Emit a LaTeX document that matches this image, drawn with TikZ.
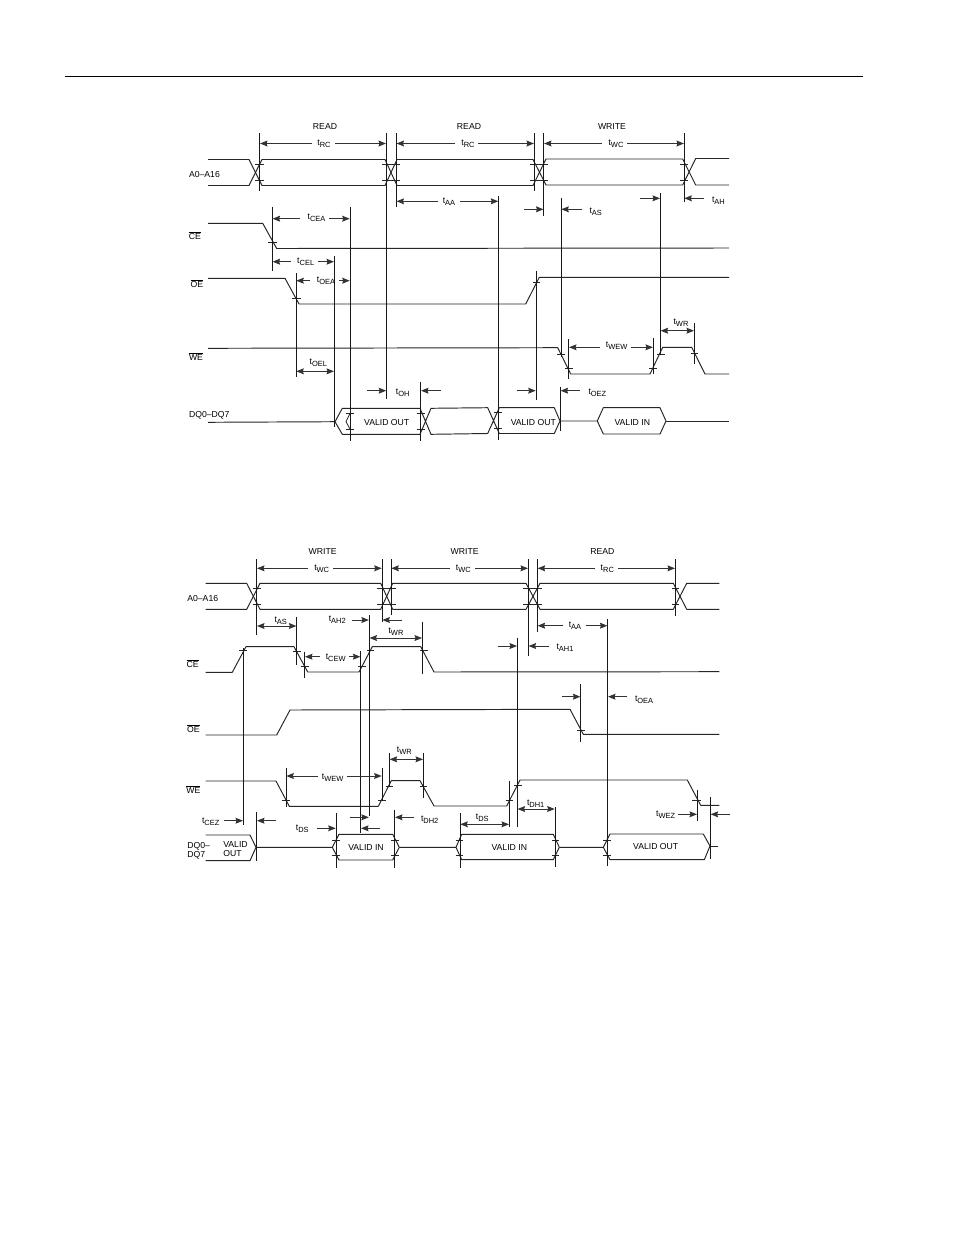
\documentclass[tikz,border=0pt]{standalone}
\usepackage{fontspec}
\setmainfont{Liberation Sans}
\usetikzlibrary{arrows.meta}
\tikzset{
  ln/.style={draw=black!85,line width=0.72pt,line join=round},
  vert/.style={draw=black!90,line width=0.73pt},
  tickln/.style={draw=black!85,line width=0.6pt},
  dimarrow/.style={draw=black!80,line width=0.7pt,-{Stealth[length=5.6pt,width=4.4pt,inset=0.7pt]}},
  bothways/.style={draw=black!80,line width=0.7pt,{Stealth[length=5.6pt,width=4.4pt,inset=0.7pt]}-{Stealth[length=5.6pt,width=4.4pt,inset=0.7pt]}},
  txt/.style={inner sep=0pt,outer sep=0pt,text=black,font=\fontsize{6.5}{7.5}\selectfont},
  ltxt/.style={txt,anchor=west}
}
\newcommand\vln[3]{\draw[vert] (#1,#2)--(#1,#3);}
\newcommand\tck[3]{\draw[tickln] (#1,#3)--(#2,#3);}
\newcommand\arw[3]{\draw[dimarrow] (#1,#3)--(#2,#3);}
\newcommand\darw[3]{\draw[bothways] (#1,#3)--(#2,#3);}
\newcommand\lbl[4]{\node[txt] (#1) at (#2,#3) {#4};}
\newcommand\llbl[4]{\node[ltxt] (#1) at (#2,#3) {#4};}
\newcommand\tm[1]{t\raisebox{-0.22em}{\fontsize{5.6}{6}\selectfont #1}}
\newcommand\ovl[1]{$\overline{\hbox{#1}}$}
\begin{document}
\begin{tikzpicture}[x=0.75pt,y=-0.75pt]
\useasboundingbox[fill=white] (0,0) rectangle (954,1235);
\draw[draw=black,line width=0.75pt] (65,76)--(863,76);

%% ---------- TOP DIAGRAM ----------
\lbl{r1}{325}{127}{READ}\lbl{r2}{469}{127}{READ}\lbl{w1}{612}{126.5}{WRITE}
\llbl{a}{189}{175}{A0–A16}\lbl{ce}{195}{235.5}{\ovl{CE}}\lbl{oe}{197}{283.5}{\ovl{OE}}
\lbl{we}{196}{356.5}{\ovl{WE}}\llbl{dq}{189}{415}{DQ0–DQ7}
% address bus
\draw[ln] (208,159.5)--(249,159.5)--(262,185.5)--(385,185.5)--(397,159.5)--(533,159.5)--(546,185)--(682.7,185)--(695.7,158.5)--(729,158.5);
\draw[ln] (208,185.5)--(249,185.5)--(262,159.5)--(385,159.5)--(397,185.5)--(533,185.5)--(546,159)--(682.7,159)--(695.7,185)--(729,185);
\foreach \a/\b in {255/263.5,382/400,530/548,680/688}{\tck{\a}{\b}{164}\tck{\a}{\b}{180}}
% CE OE WE
\draw[ln] (208,223.3)--(262.7,223.3)--(276.7,248.5)--(729,248);
\draw[ln] (208,278.3)--(285,278.3)--(299,304)--(525.7,304)--(539.3,277.3)--(729,277.3);
\draw[ln] (208,348.3)--(557.7,347.7)--(570.7,374)--(650,374)--(662.7,347.3)--(691.7,347.3)--(705,374)--(729,374);
\tck{268}{277}{242.3}\tck{292}{300.7}{298.7}\tck{532.7}{540}{282.7}
\tck{557}{565.3}{354.3}\tck{565.3}{572.7}{368.3}\tck{649.3}{656.7}{368.3}\tck{657.3}{664.7}{354}\tck{690.7}{698}{353.3}
% DQ
\draw[ln] (208,422.3)--(335,421.7)--(342.3,408.3)--(420,408.3)--(431,434.3)--(487.7,433.5)--(499.3,407.7)--(554.3,407.7)--(560,421)--(554.3,433.5)--(499.3,433.5)--(487.7,407.7)--(431,408.3)--(420,434.3)--(342.3,434.3)--(335,421.7);
\draw[ln] (560,421)--(597.3,421)--(603.3,407.7)--(660,407.7)--(666,421)--(660,434)--(603.3,434)--(597.3,421);
\draw[ln] (666,421)--(729,421);
\draw[tickln] (350,413.3)--(346,421.7)--(350,429);
\tck{345.7}{353.7}{413.3}\tck{345.7}{353.7}{429}\tck{416.7}{425}{413.3}\tck{416.7}{425}{429}\tck{494.3}{502.3}{412.7}\tck{494.3}{502.3}{428.3}
% verticals
\vln{259.5}{133}{190.7}\vln{386.5}{133}{399}\vln{396}{133}{207}\vln{534.3}{133}{190.5}\vln{543.7}{133}{215.5}\vln{684}{133}{202}
\vln{498.5}{196}{440}\vln{561}{198}{357}\vln{560.3}{386.7}{430.7}\vln{660.3}{193}{355}
\vln{272.3}{206.7}{270.7}\vln{350}{206.7}{441}\vln{334.3}{255.7}{427}\vln{296}{273.3}{377.3}\vln{536}{270.7}{400}
\vln{568.7}{339.3}{378.7}\vln{653.3}{338.3}{374}\vln{694.3}{323.3}{364}\vln{420.7}{381.7}{441}
% dims
\arw{312}{260}{143.5}\arw{335}{386}{143.5}\lbl{t1}{324}{144}{\tm{RC}}
\arw{455}{396.5}{143.5}\arw{478}{534}{143.5}\lbl{t2}{468}{144}{\tm{RC}}
\arw{602}{544}{143.5}\arw{627}{684}{143.5}\lbl{t3}{616}{143.5}{\tm{WC}}
\arw{438}{396.5}{201.3}\arw{460}{498.3}{201.3}\lbl{t4}{449}{201.7}{\tm{AA}}
\arw{524}{543.5}{209.3}\arw{581.7}{561.3}{209.3}\llbl{t5}{589.5}{212}{\tm{AS}}
\arw{640}{660}{198.3}\arw{704}{684.3}{198.3}\llbl{t6}{712}{200.7}{\tm{AH}}
\arw{300}{272.6}{218.7}\arw{329}{349.7}{218.7}\lbl{t7}{316.5}{218}{\tm{CEA}}
\arw{290.7}{272.6}{261.7}\arw{318.3}{334}{261.7}\lbl{t8}{305.7}{261.5}{\tm{CEL}}
\arw{310}{296.3}{280.7}\arw{339.3}{349.7}{280.7}\lbl{t9}{326}{280.7}{\tm{OEA}}
\darw{296.3}{334}{371.3}\lbl{t10}{318.3}{362.7}{\tm{OEL}}
\arw{367.3}{386.2}{390.7}\arw{440.7}{421}{390.7}\lbl{t11}{402.7}{392.7}{\tm{OH}}
\arw{516.7}{535.7}{390.7}\arw{580}{560.6}{390.7}\llbl{t12}{588.5}{392.7}{\tm{OEZ}}
\arw{600}{569}{347.3}\arw{630.7}{653}{347.3}\lbl{t13}{616.7}{346}{\tm{WEW}}
\darw{660.6}{694}{330.7}\lbl{t14}{681}{322.7}{\tm{WR}}
\lbl{v1}{386.7}{422.7}{VALID OUT}\lbl{v2}{533.3}{422.3}{VALID OUT}\lbl{v3}{632.3}{422.3}{VALID IN}

%% ---------- BOTTOM DIAGRAM ----------
\lbl{r3}{322.7}{551.7}{WRITE}\lbl{r4}{464.7}{551.7}{WRITE}\lbl{r5}{602.3}{551.7}{READ}
\llbl{b}{187.3}{598.3}{A0–A16}\lbl{ce2}{192.7}{663.5}{\ovl{CE}}\lbl{oe2}{193.3}{728.5}{\ovl{OE}}\lbl{we2}{193.3}{789.5}{\ovl{WE}}
\llbl{dq2a}{187.3}{846.7}{DQ0–}\llbl{dq2b}{187.3}{855.3}{DQ7}
% address bus
\draw[ln] (205.7,583.3)--(246.7,583.3)--(260,609.3)--(380.7,609.3)--(392.7,583.3)--(526,583.3)--(540,609.3)--(673.3,609.3)--(686.7,583.3)--(719.3,583.3);
\draw[ln] (205.7,609.3)--(246.7,609.3)--(260,583.3)--(380.7,583.3)--(392.7,609.3)--(526,609.3)--(540,583.3)--(673.3,583.3)--(686.7,609.3)--(719.3,609.3);
\foreach \a/\b in {252.7/260.7,377.3/395.7,523.3/541.7,671.7/679}{\tck{\a}{\b}{588.3}\tck{\a}{\b}{604}}
% CE OE WE
\draw[ln] (205.7,672.3)--(232.3,672.3)--(246,646.7)--(294,646.7)--(307.7,672)--(359,672)--(372.3,646.7)--(420.7,646.7)--(434,672)--(719.3,671.7);
\draw[ln] (205.7,735)--(276.7,735)--(290,710)--(570,709.3)--(583.3,734.3)--(719.3,734.3);
\draw[ln] (205.7,781)--(276,781)--(289.3,806.3)--(378.3,806.3)--(391.3,780.7)--(420,780.7)--(434,806)--(506.7,806)--(520,780)--(687.3,780)--(700.7,805.3)--(719.3,805.3);
\tck{239.3}{247.3}{650.7}\tck{292.7}{300.7}{651}\tck{301.3}{308.7}{666.7}\tck{358.3}{366}{666.7}\tck{366.7}{374}{650.7}\tck{420}{427.7}{650.7}
\tck{577.3}{585.3}{730}
\tck{282.3}{290}{800.7}\tck{378.3}{386}{800.7}\tck{385.7}{393.3}{786.7}\tck{420}{427.3}{786.7}\tck{505.7}{513.3}{800.7}\tck{514}{521.7}{785}\tck{692.3}{700.7}{800}
% DQ
\draw[ln] (205.7,835)--(250,835)--(256,847.3)--(250,860.7)--(205.7,860.7);
\draw[ln] (256,847.3)--(332.3,847.3)--(339,834.3)--(392.7,834.3)--(399.3,847.3)--(392.7,860)--(339,860)--(332.3,847.3);
\draw[ln] (399.3,847.3)--(456,847.3)--(461.7,834.3)--(553.3,834.3)--(559.3,847.3)--(553.3,859.7)--(461.7,859.7)--(456,847.3);
\draw[ln] (559.3,847.3)--(603.3,847.3)--(610,834)--(703.3,834)--(710,846)--(704.3,859.7)--(610,859.7)--(603.3,847.3);
\draw[ln] (710,846)--(718.3,846);
\foreach \a/\b in {332/340,391/399,455.7/463.3,551.7/559.3,603.3/611.3}{\tck{\a}{\b}{840}\tck{\a}{\b}{855}}
% verticals
\vln{256.7}{559}{635}\vln{382}{559}{622.3}\vln{391}{559}{615}\vln{528.3}{559}{656}\vln{537.3}{559}{632.3}\vln{675.3}{559}{616}
\vln{607.7}{619}{866}\vln{296.7}{616.7}{665}\vln{369.2}{615}{816}\vln{360.7}{651}{832.7}\vln{422.3}{621.7}{674.3}
\vln{243.3}{648}{825}\vln{304.7}{651.7}{677.7}\vln{517.3}{637.7}{826.7}\vln{580.7}{684.3}{741.7}
\vln{286}{768.3}{806.7}\vln{382}{768.3}{800.7}\vln{389.3}{753.3}{787}\vln{423.3}{752.7}{798.3}
\vln{509.3}{781}{826.7}\vln{555}{807.3}{867.3}\vln{460}{813.3}{868.3}\vln{697.3}{790}{821}\vln{710.3}{796.7}{859.3}
\vln{256.7}{811.7}{860.7}\vln{336}{813.3}{868.3}\vln{394.7}{810}{867.7}
% dims
\arw{308.3}{257}{568.3}\arw{333.3}{381.7}{568.3}\lbl{u1}{321.7}{569}{\tm{WC}}
\arw{450}{391.3}{568.3}\arw{475}{528}{568.3}\lbl{u2}{463.3}{569}{\tm{WC}}
\arw{595}{537.6}{568.3}\arw{618.3}{675}{568.3}\lbl{u3}{607.3}{569}{\tm{RC}}
\arw{563.3}{537.6}{625.7}\arw{585.7}{607.4}{625.7}\lbl{u4}{575}{626}{\tm{AA}}
\darw{257}{296.4}{626}\lbl{u5}{280.7}{621}{\tm{AS}}
\arw{351.7}{368.9}{620}\arw{402.3}{382.3}{620}\lbl{u6}{337.3}{620}{\tm{AH2}}
\darw{369.5}{422}{638}\lbl{u7}{396}{631.7}{\tm{WR}}
\arw{320}{305}{656.7}\arw{349.3}{360.4}{656.7}\lbl{u8}{335.7}{657.7}{\tm{CEW}}
\arw{498.3}{517}{646}\arw{549}{528.6}{646}\llbl{u9}{556.5}{647.7}{\tm{AH1}}
\arw{561.7}{580.4}{696.7}\arw{627.3}{608}{696.7}\llbl{u10}{635}{699.3}{\tm{OEA}}
\arw{318.3}{286.3}{776}\arw{346.7}{381.7}{776}\lbl{u11}{332.7}{777.7}{\tm{WEW}}
\darw{389.6}{423}{759.3}\lbl{u12}{404.3}{750.7}{\tm{WR}}
\darw{460.3}{509}{824.3}\lbl{u13}{482.3}{817.7}{\tm{DS}}
\darw{517.6}{554.7}{809}\lbl{u14}{535.7}{803.3}{\tm{DH1}}
\arw{678.3}{697}{814.3}\arw{730}{710.6}{814.3}\lbl{u15}{665.7}{815}{\tm{WEZ}}
\arw{224.3}{243}{820.7}\arw{276}{257}{820.7}\lbl{u16}{210.7}{821.7}{\tm{CEZ}}
\arw{317.3}{335.7}{828.3}\lbl{u17}{302.3}{828.3}{\tm{DS}}
\arw{350}{368.9}{817.3}\arw{380}{361}{828.3}
\arw{414.3}{395}{817.3}\llbl{u18}{421}{820}{\tm{DH2}}
\llbl{x1}{223.3}{845}{VALID}\llbl{x2}{223.3}{853.7}{OUT}
\lbl{x3}{366}{847.3}{VALID IN}\lbl{x4}{509.3}{847.3}{VALID IN}\lbl{x5}{655.7}{847}{VALID OUT}
\end{tikzpicture}
\end{document}
